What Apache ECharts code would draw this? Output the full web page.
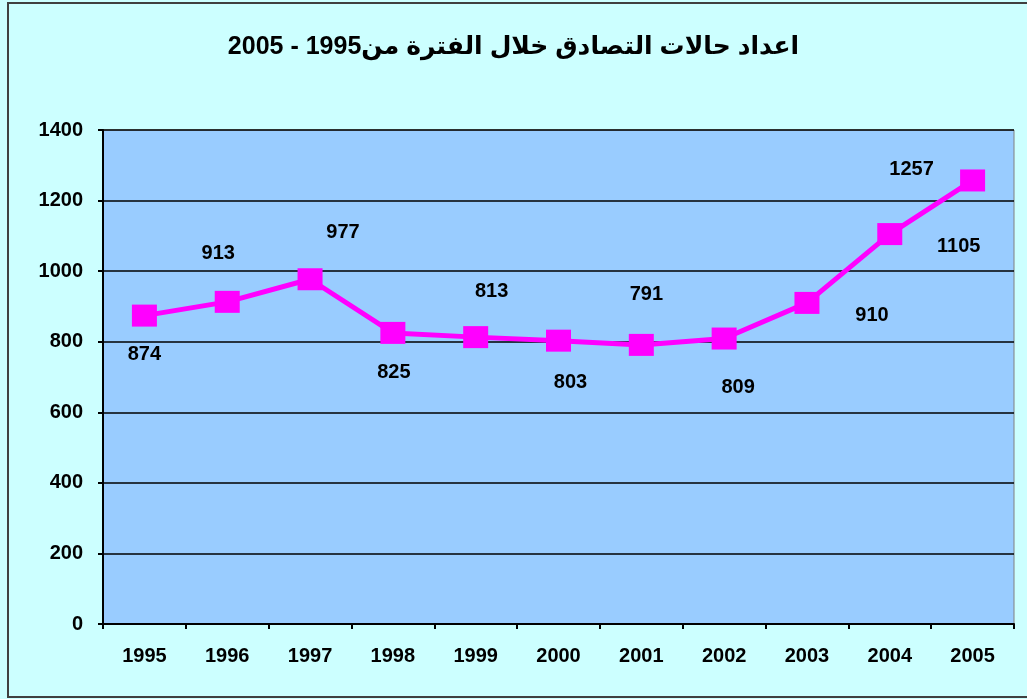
<!DOCTYPE html>
<html>
<head>
<meta charset="utf-8">
<script src="https://cdn.jsdelivr.net/npm/echarts@6/dist/echarts.min.js"></script>
<style>
html,body{margin:0;padding:0;background:#CCFFFF;}
#chart{width:1027px;height:699px;}
</style>
</head>
<body>
<div id="chart"></div>
<script>
var titleText = 'اعداد حالات التصادق خلال الفترة من1995 - 2005';
var years = ['1995','1996','1997','1998','1999','2000','2001','2002','2003','2004','2005'];
var cases = [874, 913, 977, 825, 813, 803, 791, 809, 910, 1105, 1257];
var yTicks = [0, 200, 400, 600, 800, 1000, 1200, 1400];

// label placement around each marker (style, not data)
var labelOffsets = [[0,39],[-9,-48],[33,-47],[1,40],[16,-46],[12,42],[5,-50],[14,49],[65,13],[69,12],[-61,-11]];

var chart = echarts.init(document.getElementById('chart'));
var font = '"Liberation Sans", Arial, sans-serif';
chart.setOption({
  backgroundColor: '#CCFFFF',
  animation: false,
  title: {
    text: '\u202B' + titleText + '\u202C',
    left: 'center',
    top: 30,
    textStyle: {fontFamily: '"Liberation Sans", "DejaVu Sans", Arial, sans-serif', fontSize: 25, fontWeight: 'bold', color: '#000'}
  },
  graphic: [{
    type: 'rect',
    shape: {x: 8, y: 3, width: 1030, height: 694},
    style: {fill: 'none', stroke: '#404040', lineWidth: 2},
    silent: true,
    z: 100
  }],
  grid: {
    left: 103, right: 13, top: 130, bottom: 75,
    show: true,
    backgroundColor: '#99CCFF',
    borderColor: '#808080',
    borderWidth: 1
  },
  xAxis: {
    type: 'category',
    data: years,
    boundaryGap: true,
    axisLine: {lineStyle: {color: '#000', width: 2}},
    axisTick: {show: true, length: 5, lineStyle: {color: '#000', width: 2}},
    axisLabel: {margin: 22, fontFamily: font, fontSize: 20, fontWeight: 'bold', color: '#000'},
    splitLine: {show: false}
  },
  yAxis: {
    type: 'value',
    min: yTicks[0],
    max: yTicks[yTicks.length - 1],
    interval: yTicks[1] - yTicks[0],
    axisLine: {show: true, lineStyle: {color: '#000', width: 2}},
    axisTick: {show: true, length: 5, lineStyle: {color: '#000', width: 2}},
    axisLabel: {margin: 20, fontFamily: font, fontSize: 20, fontWeight: 'bold', color: '#000',
      formatter: function (v) { return String(v); }},
    splitLine: {show: true, lineStyle: {color: '#000', width: 1.5}}
  },
  series: [{
    type: 'line',
    data: cases.map(function (v, i) {
      return {
        value: v,
        label: {offset: labelOffsets[i]}
      };
    }),
    symbol: 'rect',
    symbolSize: [25, 22],
    lineStyle: {color: '#FF00FF', width: 5},
    itemStyle: {color: '#FF00FF'},
    label: {
      show: true,
      position: 'inside',
      fontFamily: font,
      fontSize: 20,
      fontWeight: 'bold',
      color: '#000'
    },
    z: 5
  }]
});
</script>
</body>
</html>
